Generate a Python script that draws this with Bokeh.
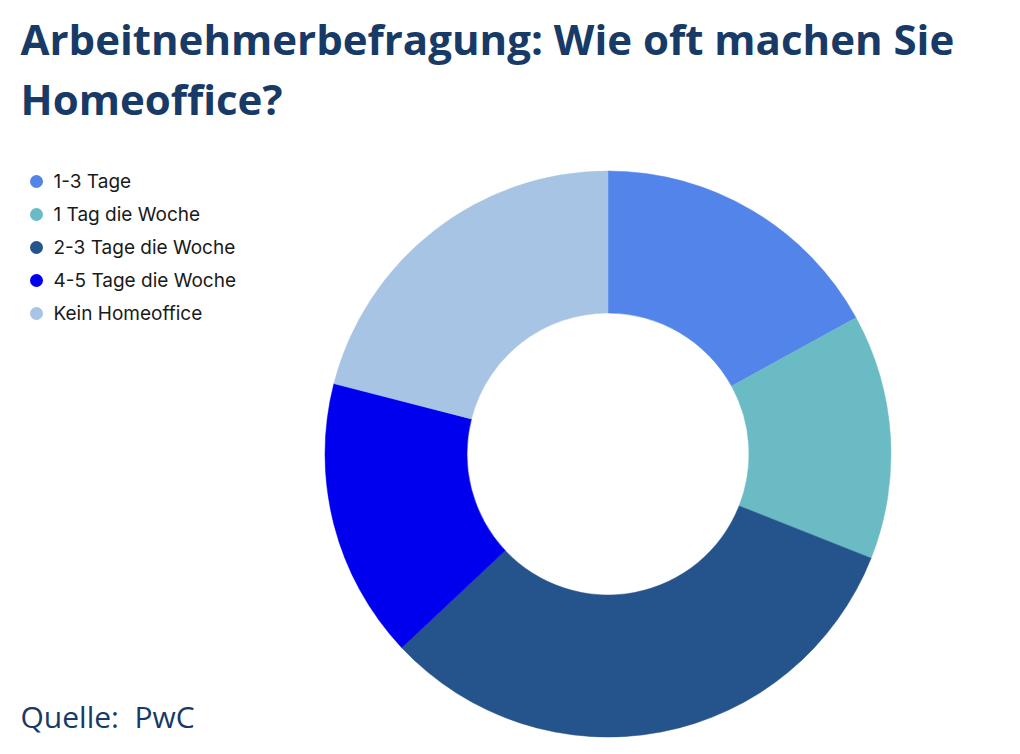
import math
from bokeh.plotting import figure
from bokeh.models import ColumnDataSource, Range1d
from bokeh.core.properties import value
from bokeh.embed import file_html
from bokeh.resources import INLINE

categories = ["1-3 Tage", "1 Tag die Woche", "2-3 Tage die Woche", "4-5 Tage die Woche", "Kein Homeoffice"]
values = [17, 14, 32, 16, 21]
colors = ["#5284EA", "#6ABBC3", "#25538C", "#0000EE", "#A7C4E4"]
title_lines = ["Arbeitnehmerbefragung: Wie oft machen Sie", "Homeoffice?"]
source_text = "Quelle:\u00a0 PwC"

W, H = 1004, 738

def Y(y_img):
    return H - y_img

def X(x_img):
    return x_img

total = sum(values)
starts, ends = [], []
cum = 0
for v in values:
    starts.append(math.pi / 2 - 2 * math.pi * cum / total)
    cum += v
    ends.append(math.pi / 2 - 2 * math.pi * cum / total)

p = figure(width=W, height=H, output_backend="svg", toolbar_location=None,
           x_range=Range1d(0, W), y_range=Range1d(0, H),
           min_border=0, min_border_left=0, min_border_right=0,
           min_border_top=0, min_border_bottom=0)
p.axis.visible = False
p.grid.visible = False
p.outline_line_color = None
p.background_fill_color = "white"
p.border_fill_color = "white"

src = ColumnDataSource(dict(start=starts, end=ends, color=colors, cat=categories))
p.annular_wedge(x=X(607.5), y=Y(453.5), inner_radius=141, outer_radius=283,
                start_angle="start", end_angle="end", direction="clock",
                fill_color="color", line_color="color", line_width=0.5, source=src)

# legend
lx = [X(36)] * len(categories)
ly = [Y(181 + 33 * i) for i in range(len(categories))]
tx = [X(53)] * len(categories)
leg = ColumnDataSource(dict(x=lx, y=ly, tx=tx, cat=categories, color=colors))
p.scatter(x="x", y="y", size=13, marker="circle", fill_color="color", line_color=None, source=leg)
p.text(x="tx", y="y", text="cat", text_font=value("Inter"), text_font_size="19px",
       text_color="#1a1a1a", text_baseline="middle", text_align="left", source=leg)

# title
p.text(x=[X(20)], y=[Y(38)], text=[title_lines[0]], text_font=value("Open Sans"),
       text_font_size="42px", text_font_style="bold", text_color="#173A66",
       text_baseline="middle")
p.text(x=[X(20)], y=[Y(98)], text=[title_lines[1]], text_font=value("Open Sans"),
       text_font_size="42px", text_font_style="bold", text_color="#173A66",
       text_baseline="middle")

# source
p.text(x=[X(20)], y=[Y(715.5)], text=[source_text], text_font=value("Open Sans"),
       text_font_size="30px", text_color="#173A66", text_baseline="middle")

open("out.html", "w").write(file_html(p, INLINE))
